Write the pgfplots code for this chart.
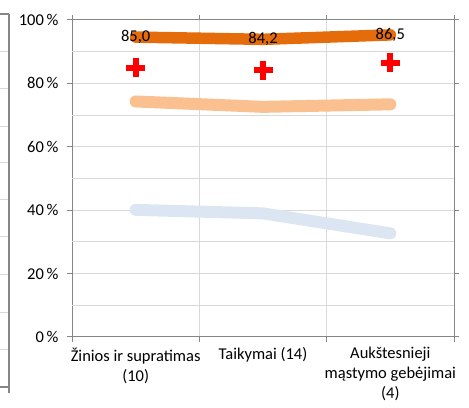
\documentclass[border=0pt]{standalone}
\usepackage{pgfplots}
\pgfplotsset{compat=1.18}
\usepackage{fontspec}
\setmainfont{Carlito}
\definecolor{axisgray}{HTML}{868686}
\definecolor{gridgray}{HTML}{D9D9D9}
\definecolor{darkor}{HTML}{E46C0A}
\definecolor{lightor}{HTML}{FAC090}
\definecolor{lightbl}{HTML}{DCE6F2}
\newcommand{\lbl}{\fontsize{16.5bp}{20bp}\selectfont}
\begin{document}
\begin{tikzpicture}
\useasboundingbox (0bp,0bp) rectangle (469bp,408bp);
% edge of the neighbouring chart
\foreach \yy in {52,89,127,163,200,237,275,313,350}
  \draw[gridgray,line width=1bp] (0bp,408bp-\yy bp) -- (9bp,408bp-\yy bp);
\draw[axisgray,line width=1.2bp] (0bp,394bp) -- (9bp,394bp) (9bp,394bp) -- (9bp,15bp) (0bp,21bp) -- (9bp,21bp);
\begin{axis}[
  at={(72bp,71bp)}, anchor=south west,
  scale only axis, width=382bp, height=317bp,
  xmin=0, xmax=3, ymin=0, ymax=100,
  axis line style={axisgray, line width=1bp},
  tick align=outside, major tick length=5bp,
  tick style={axisgray, line width=1bp},
  grid style={gridgray, line width=1bp},
  xtick={0,1,2,3}, xticklabels={}, xmajorgrids,
  extra x ticks={0.5,1.5,2.5},
  extra x tick labels={{Žinios ir supratimas\\(10)}, {Taikymai (14)}, {Aukštesnieji\\mąstymo gebėjimai\\(4)}},
  extra x tick style={grid=none, major tick length=0pt},
  xticklabel style={font=\lbl, align=center, anchor=north, yshift=-7bp},
  ytick={0,20,40,60,80,100}, ymajorgrids,
  yticklabels={0\,\%, 20\,\%, 40\,\%, 60\,\%, 80\,\%, 100\,\%},
  extra y ticks={10,30,50,70,90}, extra y tick labels={},
  extra y tick style={major tick length=0pt},
  yticklabel style={font=\lbl, xshift=-5bp},
  clip=false,
]
\addplot[lightbl, line width=12bp, line cap=round, line join=round]
  coordinates {(0.5,40.1) (1.5,39.0) (2.5,32.7)};
\addplot[lightor, line width=12bp, line cap=round, line join=round]
  coordinates {(0.5,74.3) (1.5,72.6) (2.5,73.4)};
\addplot[darkor, line width=11.5bp, line cap=round, line join=round,
  point meta=explicit symbolic, nodes near coords,
  nodes near coords align={center},
  every node near coord/.append style={font=\lbl, text=black, line width=0pt}]
  coordinates {(0.5,94.6) [{85,0}] (1.5,93.9) [{84,2}] (2.5,95.3) [{86,5}]};
\addplot[only marks, mark=+, mark size=9.5bp, red,
  mark options={line width=6bp, line cap=butt}]
  coordinates {(0.5,85.0) (1.5,84.2) (2.5,86.5)};
\end{axis}
\end{tikzpicture}
\end{document}
